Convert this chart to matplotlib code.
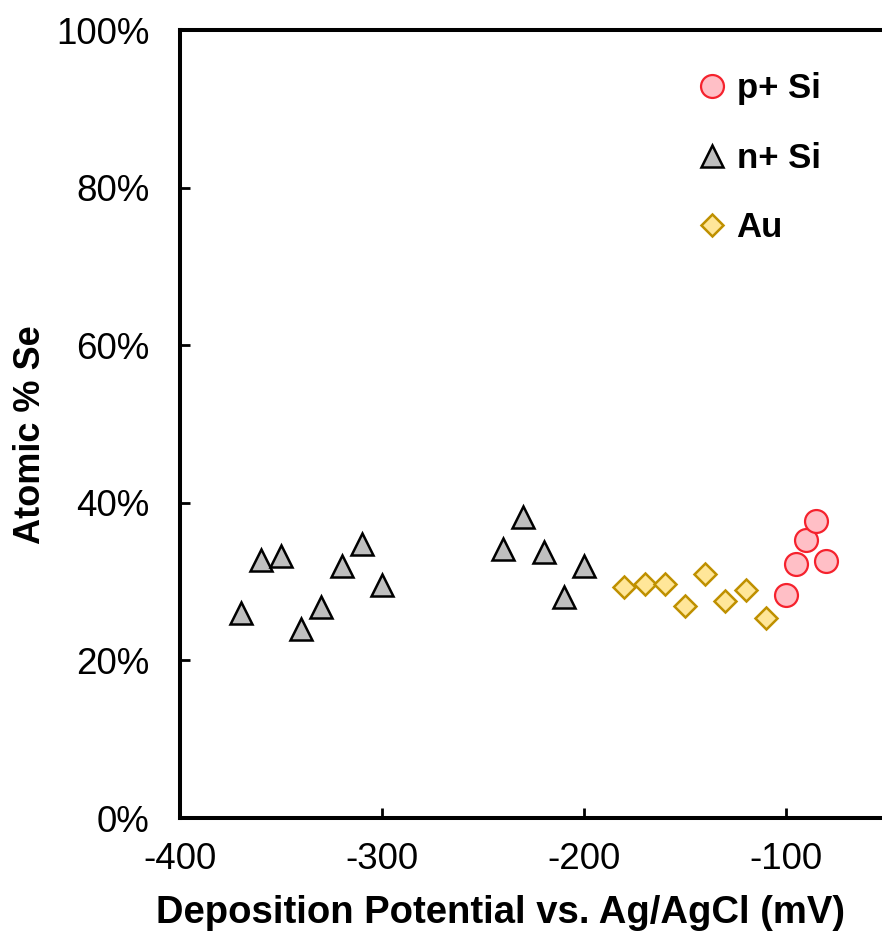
import matplotlib as mpl
import matplotlib.pyplot as plt
from matplotlib.ticker import FuncFormatter

# deposition potential (mV vs Ag/AgCl) and atomic % Se
p_si_x = [-100, -95, -90, -85, -80]
p_si_y = [28.3, 32.2, 35.3, 37.7, 32.6]

n_si_x = [-370, -360, -350, -340, -330, -320, -310, -300,
          -240, -230, -220, -210, -200]
n_si_y = [26.0, 32.7, 33.3, 24.0, 26.8, 32.0, 34.8, 29.6,
          34.1, 38.2, 33.8, 28.0, 32.0]

au_x = [-180, -170, -160, -150, -140, -130, -120, -110]
au_y = [29.3, 29.7, 29.7, 26.9, 31.0, 27.5, 28.9, 25.4]

x_ticks = [-400, -300, -200, -100]
y_ticks = [0, 20, 40, 60, 80, 100]

mpl.rcParams.update({
    "font.family": ["Liberation Sans", "DejaVu Sans"],
    "font.size": 26,
    "axes.unicode_minus": False,
})

fig = plt.figure(figsize=(8.82, 9.39), dpi=100)
ax = fig.add_axes([180 / 882, 121 / 939, 707 / 882, 788 / 939])

ax.plot(n_si_x, n_si_y, ls="none", marker="^", ms=16.5, mfc="#BFBFBF",
        mec="black", mew=1.8, label="n+ Si", zorder=3)
ax.plot(au_x, au_y, ls="none", marker="D", ms=11.5, mfc="#FFE699",
        mec="#BF9000", mew=1.8, label="Au", zorder=3)
ax.plot(p_si_x, p_si_y, ls="none", marker="o", ms=16.5, mfc="#FFBFC6",
        mec="#F5222D", mew=1.6, label="p+ Si", zorder=4)

ax.set_xlim(-400, -50)
ax.set_ylim(0, 100)
ax.set_xticks(x_ticks)
ax.set_yticks(y_ticks)
ax.yaxis.set_major_formatter(FuncFormatter(lambda v, _: f"{v:.0f}%"))
ax.xaxis.set_major_formatter(FuncFormatter(lambda v, _: f"{v:.0f}"))

for side in ("left", "bottom", "top", "right"):
    ax.spines[side].set_linewidth(2.9)
ax.spines["right"].set_visible(False)
ax.tick_params(direction="in", length=7, width=2, labelsize=26.5)
ax.tick_params(axis="y", pad=22)
ax.tick_params(axis="x", pad=17)

ax.set_xlabel("Deposition Potential vs. Ag/AgCl (mV)", fontsize=27.5,
              fontweight="bold", va="center")
ax.xaxis.set_label_coords(0.454, -0.121)
ax.set_ylabel("Atomic % Se", fontsize=26, fontweight="bold", va="center")
ax.yaxis.set_label_coords(-0.212, 0.486)

handles, labels = ax.get_legend_handles_labels()
order = [2, 0, 1]
leg = ax.legend([handles[i] for i in order], [labels[i] for i in order],
                loc="upper left", bbox_to_anchor=(681 / 882, 1 - 55 / 939),
                bbox_transform=fig.transFigure, frameon=False, numpoints=1,
                handlelength=0.8, handletextpad=0.3, labelspacing=1.05,
                borderpad=0, prop={"weight": "bold", "size": 25})

fig.savefig("out.png", dpi=100)
